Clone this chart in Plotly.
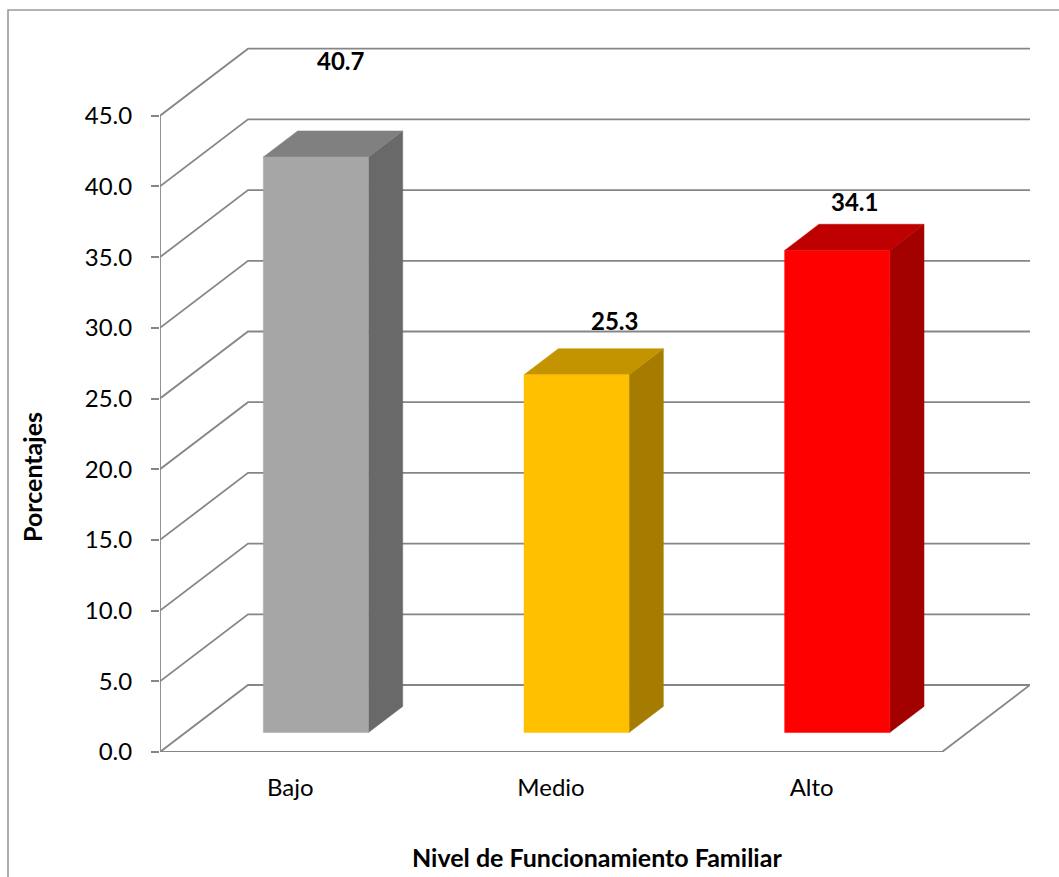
import plotly.graph_objects as go

# ---- data -------------------------------------------------------------
categories = ["Bajo", "Medio", "Alto"]
values = [40.7, 25.3, 34.1]
front_colors = ["#A6A6A6", "#FFC000", "#FF0000"]
top_colors = ["#808080", "#C49300", "#BF0000"]
side_colors = ["#696969", "#A67C00", "#A30000"]
y_ticks = [0, 5, 10, 15, 20, 25, 30, 35, 40, 45]
label_lift = [8.2, 5.25, 4.8]      # value-label height above the bar value
label_shift = [0.03, 0.08, 0.0]    # value-label horizontal nudge

# ---- 3-D box geometry (in axis units) --------------------------------
DX = 0.3376      # horizontal shift of the full depth of the wall
DY = 4.74        # vertical shift of the full depth of the wall
D_FRONT = 0.29   # depth of bar front face (0 = front, 1 = back wall)
D_BACK = 0.68    # depth of bar back face
HALF = 0.2015    # half bar width
X_LEFT, X_RIGHT = -0.5, 2.5
GRID_COLOR = "#868686"
FONT = "Lato"

W, H = 1059, 877
M = dict(l=160, r=29, t=45, b=125)
X_RANGE = [X_LEFT, X_RIGHT + DX]
Y_RANGE = [0, 50]


def proj(x, v, d):
    return x + d * DX, v + d * DY


def poly(points):
    xs, ys = zip(*[proj(*p) for p in points])
    return list(xs) + [xs[0]], list(ys) + [ys[0]]


fig = go.Figure()

# gridlines: side wall diagonal + back wall horizontal
for v in y_ticks:
    a = proj(X_LEFT, v, 0)
    b = proj(X_LEFT, v, 1)
    c = proj(X_RIGHT, v, 1)
    fig.add_trace(go.Scatter(x=[a[0], b[0], c[0]], y=[a[1], b[1], c[1]],
                             mode="lines", line=dict(color=GRID_COLOR, width=1.8),
                             hoverinfo="skip", showlegend=False))

# floor front edge and right edge
f = [proj(X_LEFT, 0, 0), proj(X_RIGHT, 0, 0), proj(X_RIGHT, 0, 1)]
fig.add_trace(go.Scatter(x=[p[0] for p in f], y=[p[1] for p in f], mode="lines",
                         line=dict(color=GRID_COLOR, width=1.8),
                         hoverinfo="skip", showlegend=False))
# front vertical axis line
fig.add_trace(go.Scatter(x=[X_LEFT, X_LEFT], y=[0, y_ticks[-1]], mode="lines",
                         line=dict(color=GRID_COLOR, width=1.8),
                         hoverinfo="skip", showlegend=False))

# bars
for i, v in enumerate(values):
    x0, x1 = i - HALF, i + HALF
    faces = [
        ([(x1, 0, D_FRONT), (x1, 0, D_BACK), (x1, v, D_BACK), (x1, v, D_FRONT)], side_colors[i]),
        ([(x0, v, D_FRONT), (x1, v, D_FRONT), (x1, v, D_BACK), (x0, v, D_BACK)], top_colors[i]),
        ([(x0, 0, D_FRONT), (x1, 0, D_FRONT), (x1, v, D_FRONT), (x0, v, D_FRONT)], front_colors[i]),
    ]
    for pts, col in faces:
        xs, ys = poly(pts)
        fig.add_trace(go.Scatter(x=xs, y=ys, mode="lines", fill="toself",
                                 fillcolor=col, line=dict(color=col, width=0.5),
                                 hoverinfo="skip", showlegend=False))
    cx, _ = proj(i, v, (D_FRONT + D_BACK) / 2)
    fig.add_annotation(x=cx + label_shift[i], y=v + label_lift[i], text=f"{v:.1f}",
                       showarrow=False, xanchor="center", yanchor="middle",
                       font=dict(family=FONT, size=24, color="black", weight="bold"))


def px_to_paper(px, py):
    pw = W - M["l"] - M["r"]
    ph = H - M["t"] - M["b"]
    return (px - M["l"]) / pw, (H - M["b"] - py) / ph


# outer chart border
bx0, by0 = px_to_paper(8, 900)
bx1, by1 = px_to_paper(1080, 10)
fig.add_shape(type="rect", xref="paper", yref="paper", x0=bx0, y0=by0, x1=bx1, y1=by1,
              line=dict(color="#9A9A9A", width=1.6), fillcolor="rgba(0,0,0,0)", layer="below")

# axis titles
tx, ty = px_to_paper(32, 477)
fig.add_annotation(xref="paper", yref="paper", x=tx, y=ty, text="Porcentajes",
                   textangle=-90, showarrow=False, xanchor="center", yanchor="middle",
                   font=dict(family=FONT, size=25, color="black", weight="bold"))
tx, ty = px_to_paper(597, 857)
fig.add_annotation(xref="paper", yref="paper", x=tx, y=ty,
                   text="Nivel de Funcionamiento Familiar",
                   showarrow=False, xanchor="center", yanchor="middle",
                   font=dict(family=FONT, size=25, color="black", weight="bold"))

fig.update_layout(
    width=W, height=H, margin=M,
    paper_bgcolor="white", plot_bgcolor="white",
    font=dict(family=FONT, size=24, color="black"),
    xaxis=dict(range=X_RANGE, tickvals=[0, 1, 2], ticktext=categories,
               showgrid=False, zeroline=False, showline=False, ticks="",
               ticklabelstandoff=19, fixedrange=True),
    yaxis=dict(range=Y_RANGE, tickvals=y_ticks, ticktext=[f"{t:.1f}" for t in y_ticks],
               showgrid=False, zeroline=False, showline=False,
               ticks="outside", ticklen=8, tickwidth=1.8, tickcolor=GRID_COLOR,
               ticklabelstandoff=14, fixedrange=True),
)

fig.write_html("out.html")
